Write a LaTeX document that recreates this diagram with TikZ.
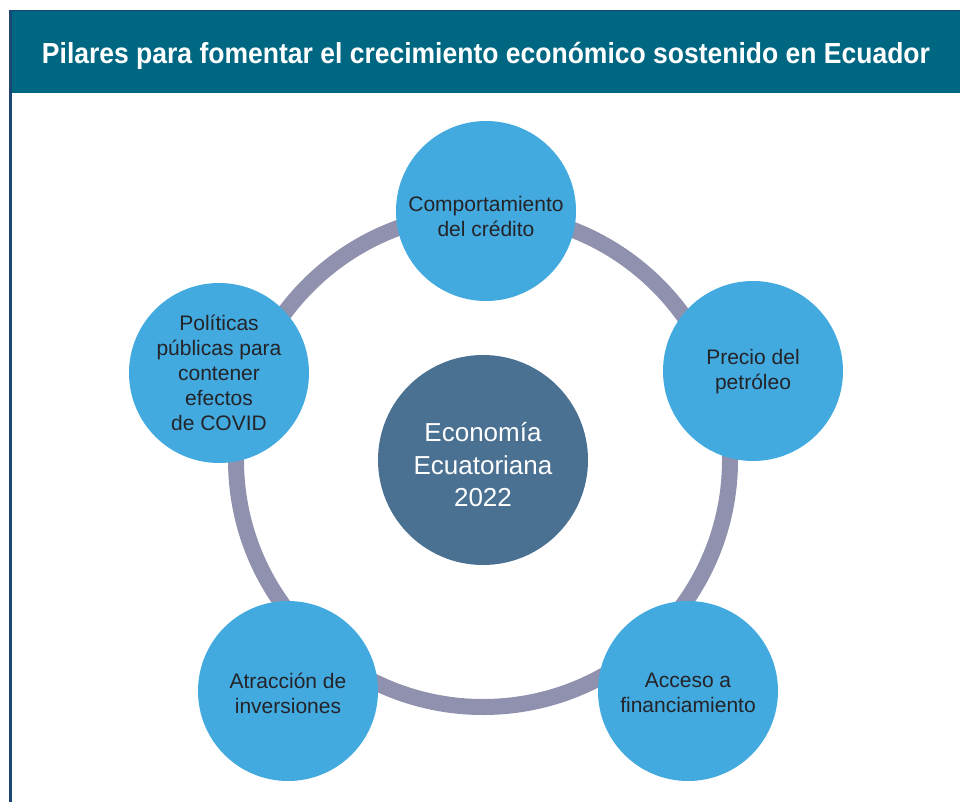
\documentclass[tikz,border=0pt]{standalone}
\usepackage{fontspec}
\usepackage{graphicx}
\setmainfont{Liberation Sans}
\definecolor{headbg}{RGB}{0,103,130}
\definecolor{frameblue}{RGB}{28,70,115}
\definecolor{satblue}{RGB}{66,170,223}
\definecolor{centerblue}{RGB}{74,113,146}
\definecolor{ringgray}{RGB}{143,145,174}
\definecolor{txtdark}{RGB}{35,35,40}
\tikzset{
  sat/.style={circle, fill=satblue, minimum size=180pt, inner sep=0pt},
  sattext/.style={align=center, inner sep=0pt, text=txtdark, font=\fontsize{21pt}{25pt}\selectfont},
  hub/.style={circle, fill=centerblue, minimum size=210pt, inner sep=0pt},
  hubtext/.style={align=center, inner sep=0pt, text=white, font=\fontsize{26pt}{32.5pt}\selectfont},
  ringline/.style={draw=ringgray, line width=16pt}
}
\begin{document}
\begin{tikzpicture}[x=1pt,y=-1pt]
\useasboundingbox (0,0) rectangle (960,802);
\fill[white] (0,0) rectangle (960,802);
% header
\fill[headbg] (11,10) rectangle (960,93);
\draw[frameblue, line width=1.5pt] (10,10.5) -- (960,10.5);
\draw[frameblue, line width=3pt] (10.5,9.8) -- (10.5,802);
\node[text=white, anchor=base, inner sep=0pt] (title) at (486,63.5)
  {\resizebox{888pt}{\height}{\fontsize{29pt}{34pt}\selectfont\bfseries Pilares para fomentar el crecimiento económico sostenido en Ecuador}};
% ring
\coordinate (ringc) at (483,460);
\draw[ringline] (ringc) circle[radius=247];
% center
\node[hub] (hub) at (483,460) {};
\node[hubtext] (hubt) at ([yshift=-5pt]hub.center) {Economía\\Ecuatoriana\\2022};
% satellites
\node[sat] (credito) at (486,211) {};
\node[sattext] (creditot) at ([yshift=-5pt]credito.center) {Comportamiento\\del crédito};
\node[sat] (petroleo) at (753,371) {};
\node[sattext] (petroleot) at ([yshift=-1pt]petroleo.center) {Precio del\\petróleo};
\node[sat] (financ) at (688,691) {};
\node[sattext] (financt) at ([yshift=-2pt]financ.center) {Acceso a\\financiamiento};
\node[sat] (invers) at (288,691) {};
\node[sattext] (inverst) at ([yshift=-2pt]invers.center) {Atracción de\\inversiones};
\node[sat] (covid) at (219,373) {};
\node[sattext] (covidt) at ([yshift=0pt]covid.center) {Políticas\\públicas para\\contener\\efectos\\de COVID};
\end{tikzpicture}
\end{document}
